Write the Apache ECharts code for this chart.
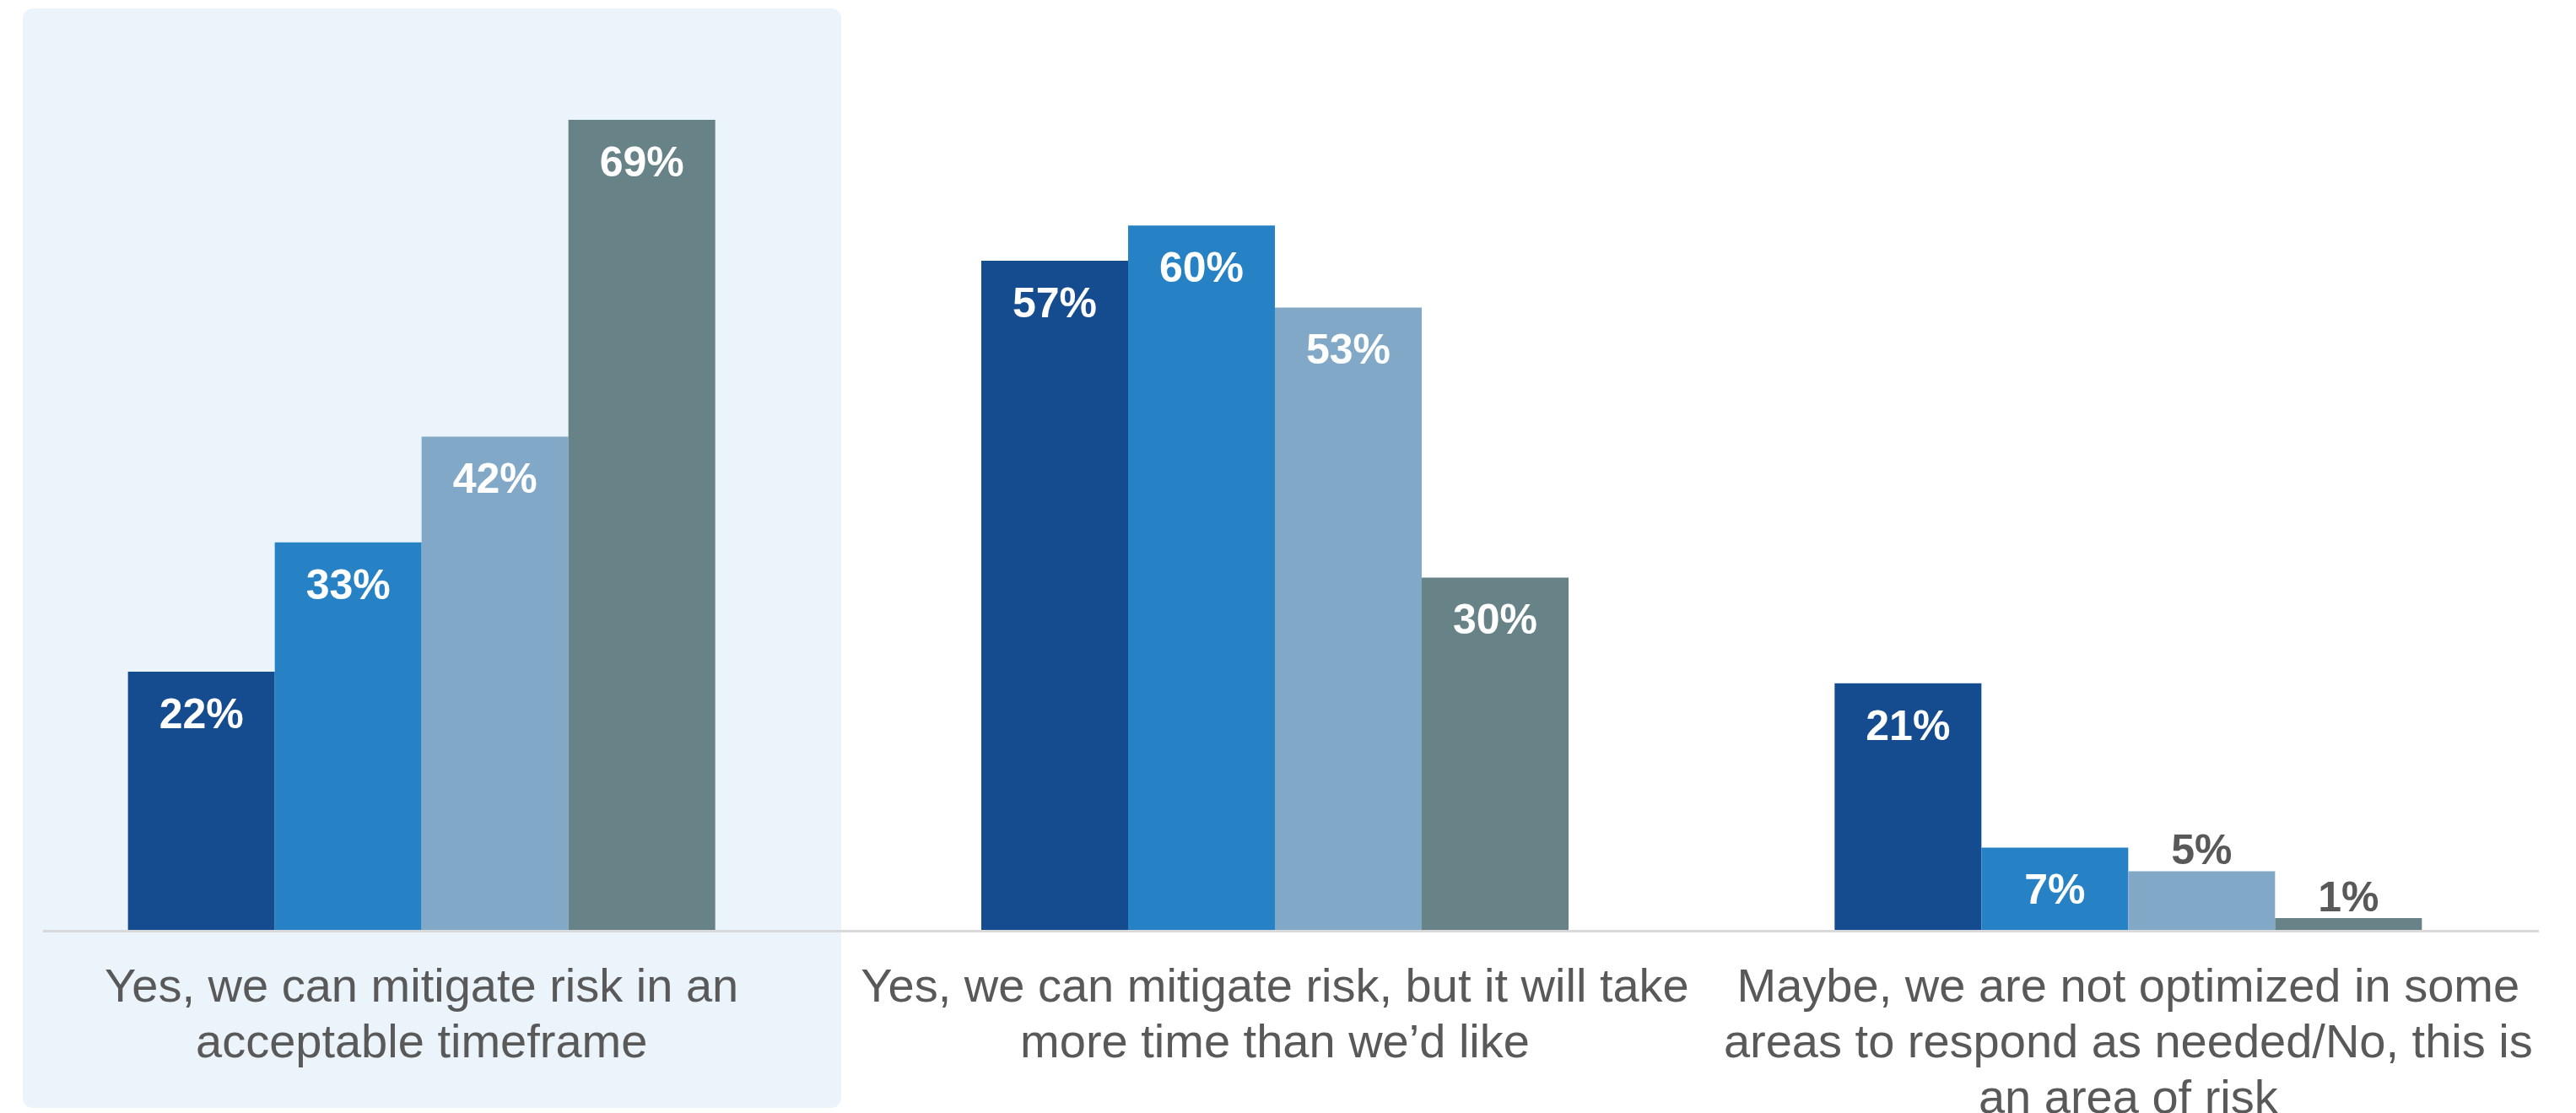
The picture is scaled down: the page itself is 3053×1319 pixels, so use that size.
<!DOCTYPE html>
<html>
<head>
<meta charset="utf-8">
<script src="https://cdn.jsdelivr.net/npm/echarts@6/dist/echarts.min.js"></script>
<style>
  html, body { margin: 0; padding: 0; background: #ffffff; }
  #chart { width: 3053px; height: 1319px; }
</style>
</head>
<body>
<div id="chart"></div>
<script>
// Survey answers (x categories) and the four respondent groups' shares, in percent
const categories = [
  'Yes, we can mitigate risk in an\nacceptable timeframe',
  'Yes, we can mitigate risk, but it will take\nmore time than we\u2019d like',
  'Maybe, we are not optimized in some\nareas to respond as needed/No, this is\nan area of risk'
];
const groupNames = ['Group 1', 'Group 2', 'Group 3', 'Group 4'];
const group1 = [22, 57, 21];
const group2 = [33, 60, 7];
const group3 = [42, 53, 5];
const group4 = [69, 30, 1];

const colors = ['#154C8F', '#2682C5', '#81A8C6', '#678387'];
const FONT = '"Liberation Sans", Arial, Helvetica, sans-serif';

const chart = echarts.init(document.getElementById('chart'), null, { renderer: 'canvas' });

// Short bars cannot hold their label, so it sits above them in grey
function toData(values) {
  return values.map(function (v) {
    if (v <= 5) {
      return {
        value: v,
        label: { position: 'top', distance: -3, color: '#595959' }
      };
    }
    return v;
  });
}

const seriesValues = [group1, group2, group3, group4];
const series = seriesValues.map(function (vals, i) {
  return {
    name: groupNames[i],
    type: 'bar',
    data: toData(vals),
    barWidth: 174,
    barGap: '0%',
    itemStyle: { color: colors[i] },
    z: 2,
    label: {
      show: true,
      position: 'insideTop',
      distance: 28,
      color: '#ffffff',
      fontFamily: FONT,
      fontWeight: 'bold',
      fontSize: 50,
      formatter: '{c}%'
    }
  };
});

chart.setOption({
  animation: false,
  backgroundColor: '#ffffff',
  grid: {
    left: -6, right: 25, top: 128, bottom: 217,
    containLabel: false,
    outerBoundsMode: 'none'
  },
  xAxis: {
    type: 'category',
    data: categories,
    axisLine: { show: false },
    axisTick: { show: false },
    axisLabel: {
      interval: 0,
      margin: 37,
      color: '#595959',
      fontFamily: FONT,
      fontSize: 56,
      lineHeight: 66,
      align: 'center'
    }
  },
  yAxis: {
    type: 'value',
    min: 0,
    max: 70,
    show: false,
    splitLine: { show: false }
  },
  series: series
});

// Highlight panel behind the first answer, plus the baseline at zero
const y0 = chart.convertToPixel({ yAxisIndex: 0 }, 0);
chart.setOption({
  graphic: [
    {
      type: 'rect',
      z: -10,
      silent: true,
      shape: { x: 27, y: 10, width: 970, height: 1303, r: 12 },
      style: { fill: '#EBF3FB' }
    },
    {
      type: 'line',
      z: -5,
      silent: true,
      shape: { x1: 51, y1: y0 + 1.5, x2: 3009, y2: y0 + 1.5 },
      style: { stroke: '#D9D9D9', lineWidth: 3 }
    }
  ]
});
</script>
</body>
</html>
